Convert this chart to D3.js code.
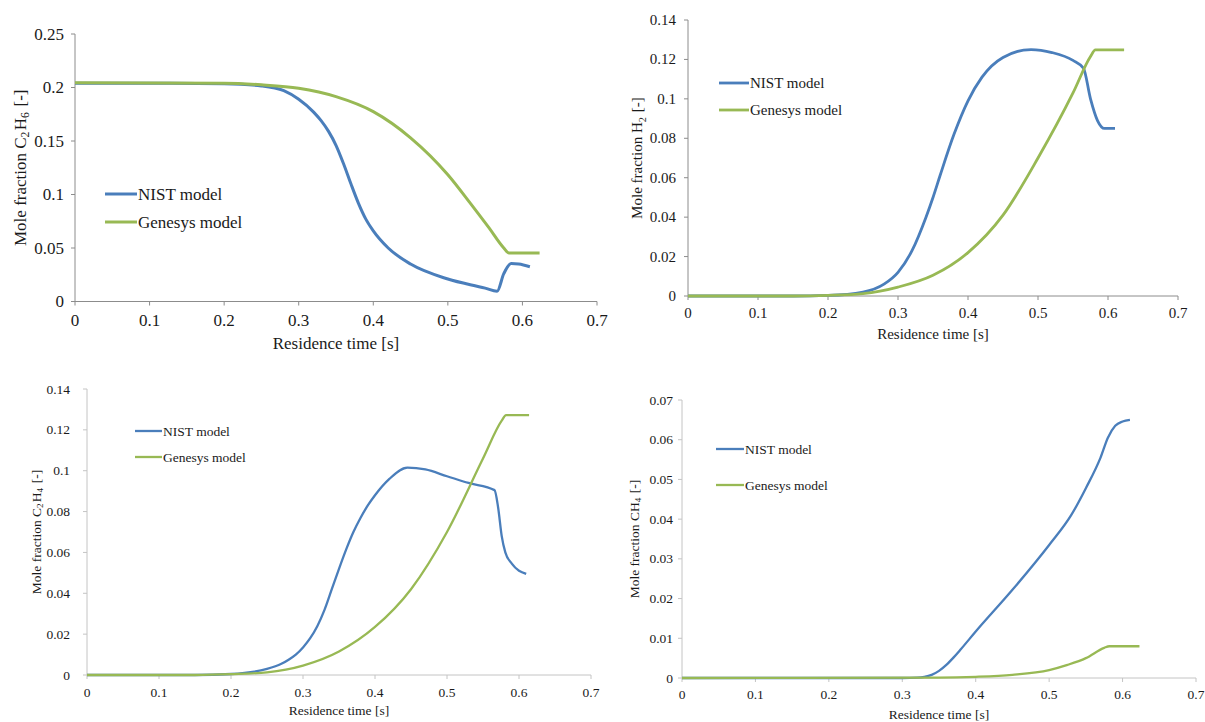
<!DOCTYPE html>
<html>
<head>
<meta charset="utf-8">
<script src="https://cdn.jsdelivr.net/npm/d3@7/dist/d3.min.js"></script>
<style>
  body { margin: 0; background: #fff; }
  svg text { font-family: "Liberation Serif", "Times New Roman", serif; fill: #1a1a1a; }
</style>
</head>
<body>
<div id="chart"></div>
<script>
// --- DATA (residence time [s], mole fraction [-]) ---
const timeTicks = [0, 0.1, 0.2, 0.3, 0.4, 0.5, 0.6, 0.7];
const c2h6Ticks = [0, 0.05, 0.1, 0.15, 0.2, 0.25];
const h2Ticks = [0, 0.02, 0.04, 0.06, 0.08, 0.1, 0.12, 0.14];
const c2h4Ticks = [0, 0.02, 0.04, 0.06, 0.08, 0.1, 0.12, 0.14];
const ch4Ticks = [0, 0.01, 0.02, 0.03, 0.04, 0.05, 0.06, 0.07];

const seriesNames = ["NIST model", "Genesys model"];

const nistC2H6 = [[0,0.204],[0.1,0.204],[0.2,0.2035],[0.25,0.2015],[0.28,0.197],[0.3,0.189],[0.32,0.177],
  [0.33,0.169],[0.34,0.159],[0.35,0.146],[0.36,0.129],[0.37,0.11],[0.38,0.092],[0.39,0.077],[0.4,0.066],
  [0.42,0.05],[0.45,0.035],[0.5,0.021],[0.55,0.0125],[0.566,0.0095],[0.575,0.026],[0.585,0.0355],
  [0.595,0.035],[0.61,0.0325]];
const genC2H6 = [[0,0.2045],[0.2,0.204],[0.25,0.2025],[0.3,0.1993],[0.35,0.1915],[0.4,0.1775],[0.45,0.153],
  [0.5,0.1185],[0.53,0.092],[0.555,0.069],[0.575,0.05],[0.582,0.0453],[0.623,0.0453]];

const nistH2 = [[0,0],[0.15,0],[0.2,0.0003],[0.25,0.002],[0.28,0.006],[0.3,0.012],[0.32,0.023],[0.34,0.04],
  [0.35,0.05],[0.36,0.061],[0.38,0.082],[0.4,0.099],[0.42,0.111],[0.45,0.121],[0.49,0.125],[0.52,0.1235],
  [0.55,0.1195],[0.565,0.1155],[0.575,0.1],[0.585,0.089],[0.595,0.085],[0.61,0.085]];
const genH2 = [[0,0],[0.15,0],[0.2,0.0003],[0.25,0.0012],[0.3,0.0045],[0.35,0.0105],[0.4,0.022],[0.45,0.041],
  [0.5,0.07],[0.55,0.103],[0.575,0.1215],[0.582,0.1248],[0.623,0.1248]];

const nistC2H4 = [[0,0],[0.15,0],[0.2,0.0005],[0.25,0.003],[0.27,0.0055],[0.28,0.0075],[0.29,0.01],
  [0.3,0.0135],[0.31,0.018],[0.32,0.024],[0.33,0.032],[0.34,0.042],[0.35,0.052],[0.36,0.0615],[0.37,0.07],
  [0.38,0.077],[0.39,0.083],[0.4,0.088],[0.42,0.096],[0.445,0.1015],[0.47,0.1006],[0.5,0.0973],[0.53,0.094],
  [0.566,0.0905],[0.571,0.082],[0.576,0.068],[0.581,0.06],[0.59,0.0545],[0.61,0.0495]];
const genC2H4 = [[0,0],[0.15,0],[0.2,0.0004],[0.25,0.0013],[0.3,0.0046],[0.35,0.0115],[0.4,0.0235],[0.45,0.042],
  [0.5,0.07],[0.55,0.106],[0.576,0.1245],[0.582,0.1272],[0.614,0.1272]];

const nistCH4 = [[0,0],[0.3,0],[0.32,0.0001],[0.33,0.0003],[0.34,0.0008],[0.35,0.0018],[0.36,0.0033],
  [0.37,0.0052],[0.38,0.0073],[0.4,0.0117],[0.45,0.0222],[0.5,0.0335],[0.53,0.041],[0.55,0.0478],
  [0.57,0.0555],[0.58,0.0605],[0.59,0.0635],[0.6,0.0646],[0.61,0.065]];
const genCH4 = [[0,0],[0.35,0.0001],[0.4,0.0003],[0.45,0.0008],[0.5,0.002],[0.525,0.0033],[0.55,0.005],
  [0.575,0.0076],[0.582,0.008],[0.623,0.008]];

const colors = ["#4a7ebb", "#98b954"];

// --- PANEL LAYOUT ---
const panels = [
  { x0: 75, x1: 597, y0: 301.5, y1: 34, yMax: 0.25, yTicks: c2h6Ticks, species: ["C", "2", "H", "6"],
    series: [nistC2H6, genC2H6], fs: 17, lw: 3, axis: "#8c8c8c", yLabGap: 11,
    tickY: 320, titleY: 343, yTitleX: 20, leg: { x0: 105, x1: 137, y: [194, 222] } },
  { x0: 688, x1: 1178, y0: 296, y1: 20, yMax: 0.14, yTicks: h2Ticks, species: ["H", "2"],
    series: [nistH2, genH2], fs: 15, lw: 2.8, axis: "#8c8c8c", yLabGap: 12,
    tickY: 313, titleY: 334, yTitleX: 637, leg: { x0: 719, x1: 749, y: [83, 110] } },
  { x0: 87, x1: 591, y0: 675, y1: 389, yMax: 0.14, yTicks: c2h4Ticks, species: ["C", "2", "H", "4"],
    series: [nistC2H4, genC2H4], fs: 13.5, lw: 2.3, axis: "#c4c4c4", yLabGap: 17,
    tickY: 692, titleY: 710, yTitleX: 36, leg: { x0: 135, x1: 162, y: [431, 457] } },
  { x0: 682, x1: 1196, y0: 678, y1: 400, yMax: 0.07, yTicks: ch4Ticks, species: ["CH", "4"],
    series: [nistCH4, genCH4], fs: 13.5, lw: 2.3, axis: "#c4c4c4", yLabGap: 9,
    tickY: 694, titleY: 714, yTitleX: 634, leg: { x0: 716, x1: 744, y: [449, 485] } }
];

const FONT = "Liberation Serif";

const svg = d3.select("#chart").append("svg")
  .attr("width", 1205).attr("height", 722)
  .attr("font-family", FONT);

const fmt = v => String(+v.toFixed(3));

panels.forEach(p => {
  const x = d3.scaleLinear().domain([0, 0.7]).range([p.x0, p.x1]);
  const y = d3.scaleLinear().domain([0, p.yMax]).range([p.y0, p.y1]);
  const g = svg.append("g");

  // axes lines
  g.append("line").attr("x1", p.x0).attr("x2", p.x0).attr("y1", p.y0).attr("y2", p.y1)
    .attr("stroke", p.axis).attr("stroke-width", 1);
  g.append("line").attr("x1", p.x0).attr("x2", p.x1).attr("y1", p.y0).attr("y2", p.y0)
    .attr("stroke", p.axis).attr("stroke-width", 1);

  // y ticks
  g.selectAll(".yt").data(p.yTicks).enter().append("line")
    .attr("x1", p.x0 - 4).attr("x2", p.x0)
    .attr("y1", d => y(d)).attr("y2", d => y(d))
    .attr("stroke", p.axis);
  g.selectAll(".yl").data(p.yTicks).enter().append("text")
    .attr("x", p.x0 - p.yLabGap).attr("y", d => y(d))
    .attr("text-anchor", "end").attr("dominant-baseline", "central")
    .attr("font-family", FONT)
    .style("font-size", p.fs + "px").text(fmt);

  // x ticks
  g.selectAll(".xt").data(timeTicks).enter().append("line")
    .attr("x1", d => x(d)).attr("x2", d => x(d))
    .attr("y1", p.y0).attr("y2", p.y0 + 4)
    .attr("stroke", p.axis);
  g.selectAll(".xl").data(timeTicks).enter().append("text")
    .attr("x", d => x(d)).attr("y", p.tickY)
    .attr("text-anchor", "middle").attr("dominant-baseline", "central")
    .attr("font-family", FONT)
    .style("font-size", p.fs + "px").text(fmt);

  // axis titles
  g.append("text")
    .attr("x", (p.x0 + p.x1) / 2).attr("y", p.titleY)
    .attr("text-anchor", "middle").attr("dominant-baseline", "central")
    .attr("font-family", FONT)
    .style("font-size", p.fs + "px").text("Residence time [s]");

  const yt = g.append("text")
    .attr("transform", `translate(${p.yTitleX},${(p.y0 + p.y1) / 2}) rotate(-90)`)
    .attr("text-anchor", "middle").attr("dominant-baseline", "central")
    .attr("font-family", FONT)
    .style("font-size", p.fs + "px");
  yt.append("tspan").text("Mole fraction ");
  const sub = p.fs * 0.3;
  for (let i = 0; i < p.species.length; i += 2) {
    yt.append("tspan").text(p.species[i]);
    yt.append("tspan").attr("dy", sub).style("font-size", (p.fs * 0.68) + "px").text(p.species[i + 1]);
    yt.append("tspan").attr("dy", -sub).text("\u200a");
  }
  yt.append("tspan").text(" [-]");

  // lines
  const line = d3.line().x(d => x(d[0])).y(d => y(d[1])).curve(d3.curveMonotoneX);
  p.series.forEach((s, i) => {
    g.append("path").datum(s)
      .attr("d", line)
      .attr("fill", "none")
      .attr("stroke", colors[i])
      .attr("stroke-width", p.lw)
      .attr("stroke-linejoin", "round");
  });

  // legend
  seriesNames.forEach((name, i) => {
    const ly = p.leg.y[i];
    g.append("line").attr("x1", p.leg.x0).attr("x2", p.leg.x1).attr("y1", ly).attr("y2", ly)
      .attr("stroke", colors[i]).attr("stroke-width", p.lw);
    g.append("text").attr("x", p.leg.x1 + 1).attr("y", ly)
      .attr("dominant-baseline", "central")
      .attr("font-family", FONT)
      .style("font-size", p.fs + "px").text(name);
  });
});
</script>
</body>
</html>
